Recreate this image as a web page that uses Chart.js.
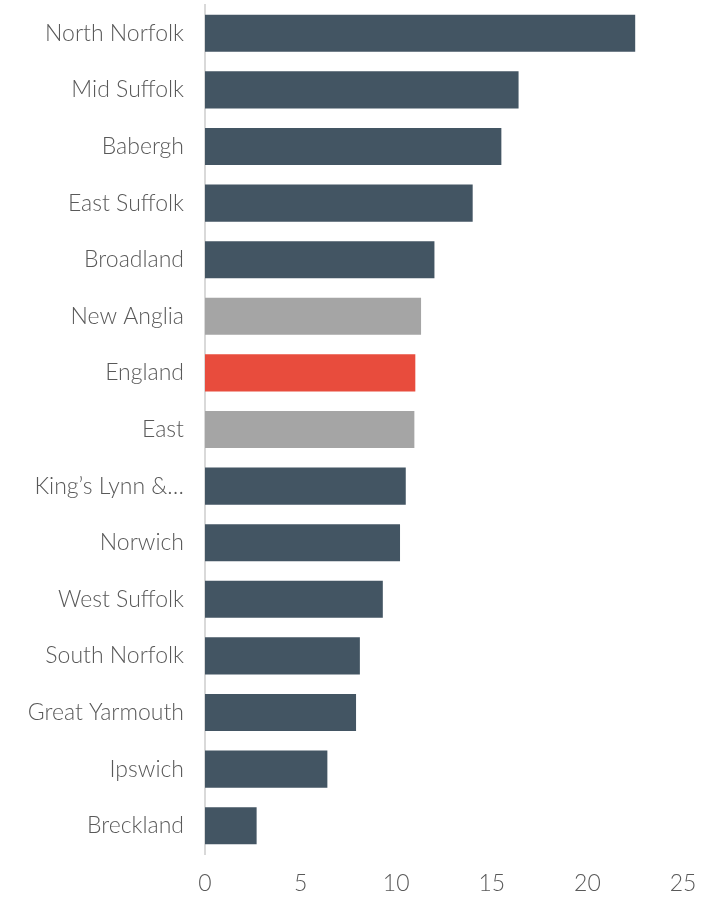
<!DOCTYPE html>
<html>
<head>
<meta charset="utf-8">
<script src="https://cdn.jsdelivr.net/npm/chart.js@4/dist/chart.umd.min.js"></script>
<style>
html,body{margin:0;padding:0;background:#fff;}
#wrap{width:713px;height:897px;position:relative;}
</style>
</head>
<body>
<div id="wrap"><canvas id="c" width="713" height="897"></canvas></div>
<script>
const categories = ["North Norfolk","Mid Suffolk","Babergh","East Suffolk","Broadland","New Anglia","England","East","King\u2019s Lynn &\u2026","Norwich","West Suffolk","South Norfolk","Great Yarmouth","Ipswich","Breckland"];
const values = [22.5, 16.4, 15.5, 14.0, 12.0, 11.3, 11.0, 10.95, 10.5, 10.2, 9.3, 8.1, 7.9, 6.4, 2.7];
const xTicks = [0, 5, 10, 15, 20, 25];

const DARK = "#435563", GREY = "#a5a5a5", RED = "#e84c3d";
const colors = categories.map(c => c === "England" ? RED : (c === "New Anglia" || c === "East") ? GREY : DARK);

new Chart(document.getElementById("c"), {
  type: "bar",
  data: {
    labels: categories,
    datasets: [{
      data: values,
      backgroundColor: colors,
      borderWidth: 0,
      categoryPercentage: 1,
      barPercentage: 0.655
    }]
  },
  options: {
    indexAxis: "y",
    responsive: false,
    animation: false,
    layout: { padding: { top: 5, right: 30, bottom: 0, left: 0 } },
    plugins: { legend: { display: false }, tooltip: { enabled: false } },
    scales: {
      x: {
        min: 0, max: 25,
        afterBuildTicks: s => { s.ticks = xTicks.map(v => ({ value: v })); },
        grid: { display: false, drawTicks: false },
        border: { display: false },
        ticks: { color: "#595959", font: { family: "Lato", size: 23, weight: 300 }, padding: 16, maxRotation: 0 },
        afterFit: s => { s.height = 43; s.paddingLeft = 0; s.paddingRight = 0; s.paddingTop = 0; s.paddingBottom = 0; }
      },
      y: {
        grid: { display: false, drawTicks: false },
        border: { display: true, color: "#d9d9d9", width: 2 },
        ticks: { color: "#595959", font: { family: "Lato", size: 23, weight: 300 }, padding: 21, autoSkip: false },
        afterFit: s => { s.width = 205; s.paddingTop = 0; s.paddingBottom = 0; s.paddingLeft = 0; s.paddingRight = 0; }
      }
    }
  }
});
</script>
</body>
</html>
